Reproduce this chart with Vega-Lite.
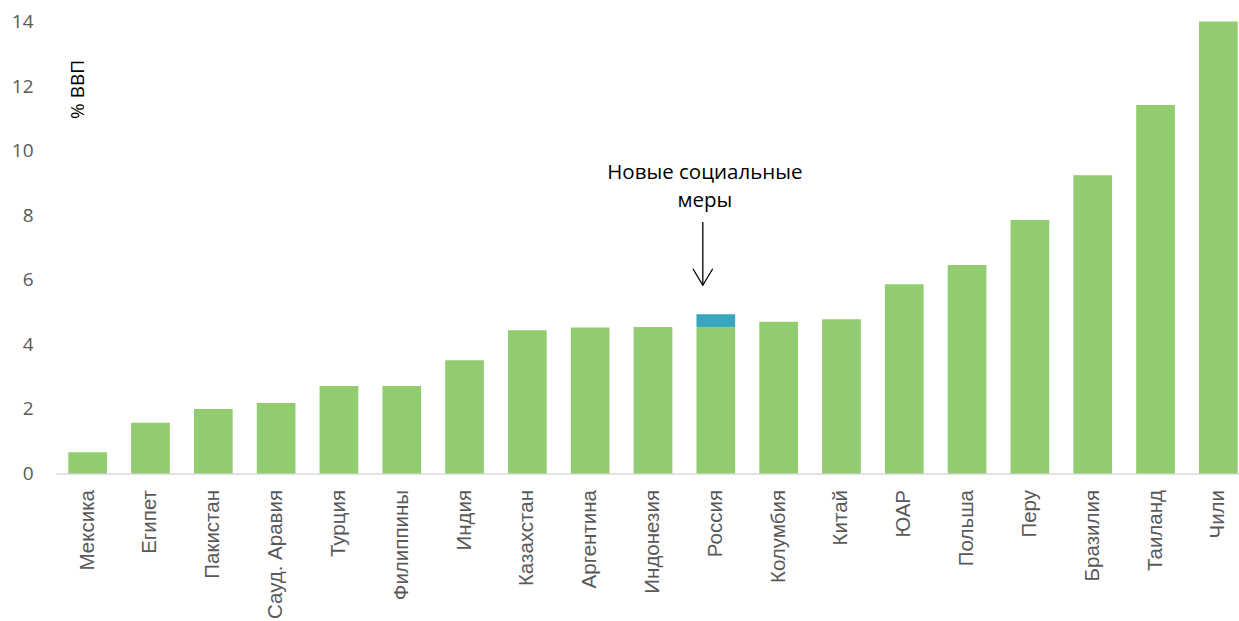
{
  "$schema": "https://vega.github.io/schema/vega-lite/v6.json",
  "autosize": {"type": "none"},
  "width": 1183,
  "height": 452,
  "padding": {"left": 56, "top": 21.5, "right": 0, "bottom": 147.5},
  "config": {
    "view": {"stroke": null},
    "axis": {"grid": false, "ticks": false}
  },
  "data": {
    "values": [
      {"country": "Мексика", "part": "Базовые меры", "value": 0.66},
      {"country": "Египет", "part": "Базовые меры", "value": 1.57},
      {"country": "Пакистан", "part": "Базовые меры", "value": 2.0},
      {"country": "Сауд. Аравия", "part": "Базовые меры", "value": 2.18},
      {"country": "Турция", "part": "Базовые меры", "value": 2.71},
      {"country": "Филиппины", "part": "Базовые меры", "value": 2.71},
      {"country": "Индия", "part": "Базовые меры", "value": 3.51},
      {"country": "Казахстан", "part": "Базовые меры", "value": 4.44},
      {"country": "Аргентина", "part": "Базовые меры", "value": 4.52},
      {"country": "Индонезия", "part": "Базовые меры", "value": 4.54},
      {"country": "Россия", "part": "Базовые меры", "value": 4.53},
      {"country": "Россия", "part": "Новые социальные меры", "value": 0.4},
      {"country": "Колумбия", "part": "Базовые меры", "value": 4.7},
      {"country": "Китай", "part": "Базовые меры", "value": 4.78},
      {"country": "ЮАР", "part": "Базовые меры", "value": 5.86},
      {"country": "Польша", "part": "Базовые меры", "value": 6.46},
      {"country": "Перу", "part": "Базовые меры", "value": 7.85},
      {"country": "Бразилия", "part": "Базовые меры", "value": 9.24},
      {"country": "Таиланд", "part": "Базовые меры", "value": 11.41},
      {"country": "Чили", "part": "Базовые меры", "value": 14.0}
    ]
  },
  "encoding": {
    "x": {
      "field": "country",
      "type": "nominal",
      "sort": null,
      "scale": {"range": [0, 1194], "paddingInner": 0.384, "paddingOuter": 0.196},
      "axis": {
        "title": null,
        "labelAngle": -90,
        "labelFont": "Liberation Sans",
        "labelFontSize": 20.5,
        "labelColor": "#595959",
        "labelPadding": 16,
        "domainColor": "#d9d9d9",
        "domainWidth": 1.5
      }
    }
  },
  "layer": [
    {
      "mark": {"type": "bar"},
      "encoding": {
        "y": {
          "field": "value",
          "type": "quantitative",
          "stack": "zero",
          "scale": {"domain": [0, 14], "nice": false},
          "axis": {
            "values": [0, 2, 4, 6, 8, 10, 12, 14],
            "domain": false,
            "labelFont": "Open Sans",
            "labelFontSize": 19,
            "labelColor": "#595959",
            "labelPadding": 23,
            "title": "% ВВП",
            "titleFont": "Open Sans",
            "titleFontSize": 19,
            "titleFontWeight": "normal",
            "titleColor": "#000000",
            "titleAngle": 270,
            "titleX": 27,
            "titleY": 67.5,
            "titleAlign": "center",
            "titleBaseline": "alphabetic"
          }
        },
        "color": {
          "field": "part",
          "type": "nominal",
          "scale": {"domain": ["Базовые меры", "Новые социальные меры"], "range": ["#92cc70", "#3aa5be"]},
          "legend": null
        },
        "order": {"field": "part", "sort": "ascending"}
      }
    },
    {
      "data": {"values": [{"note": "Новые социальные\nмеры"}]},
      "mark": {
        "type": "text",
        "lineBreak": "\n",
        "lineHeight": 28,
        "font": "Open Sans",
        "fontSize": 20.5,
        "color": "#000000",
        "align": "center",
        "baseline": "alphabetic",
        "xOffset": -11
      },
      "encoding": {
        "x": {"datum": "Россия"},
        "y": {"datum": 9.12, "type": "quantitative"},
        "text": {"field": "note"}
      }
    },
    {
      "data": {"values": [{}]},
      "mark": {"type": "rule", "color": "#000000", "strokeWidth": 1.3, "xOffset": -13},
      "encoding": {
        "x": {"datum": "Россия"},
        "y": {"datum": 7.79, "type": "quantitative"},
        "y2": {"datum": 5.85}
      }
    },
    {
      "data": {"values": [{}]},
      "mark": {
        "type": "point",
        "shape": "M-0.9,-1.5L0,0L0.9,-1.5",
        "filled": false,
        "stroke": "#000000",
        "strokeWidth": 1.3,
        "size": 484,
        "opacity": 1,
        "xOffset": -13
      },
      "encoding": {
        "x": {"datum": "Россия"},
        "y": {"datum": 5.83, "type": "quantitative"}
      }
    }
  ]
}
